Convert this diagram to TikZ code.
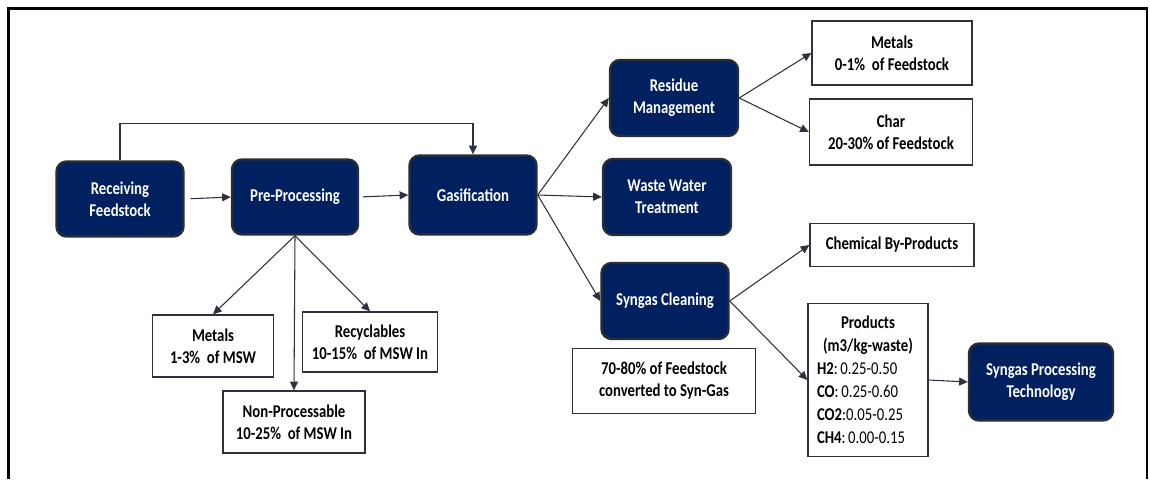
\documentclass[tikz,border=0pt]{standalone}
\usepackage{fontspec}
\setmainfont{Carlito}[FakeStretch=0.82]
\usepackage{tikz}
\usetikzlibrary{arrows.meta}

\definecolor{navy}{RGB}{0,32,96}
\definecolor{edgegray}{RGB}{40,45,54}
\definecolor{linegray}{RGB}{45,50,62}

\begin{document}
\begin{tikzpicture}[x=0.75pt,y=0.75pt,yscale=-1,xscale=1,
  stage/.style={draw=edgegray, line width=1.8pt, fill=navy, rounded corners=7.5pt, text=white, font=\fontsize{13.5}{16.5}\selectfont\bfseries, align=center, inner sep=2pt},
  outbox/.style={draw=linegray, line width=1pt, fill=white, text=black, font=\fontsize{13.5}{16.5}\selectfont\bfseries, align=center, inner sep=2pt},
  flow/.style={draw=linegray, line width=0.8pt, -{Triangle[length=6.5pt,width=6pt]}}
]
%set diagram size
\useasboundingbox (0,0) rectangle (1150,479);

%Frame
\draw [line width=2.25pt] (8,479) -- (8,8.5) -- (1147.5,8.5) ;
\draw [line width=1.1pt] (1147,8) -- (1147,479) ;

%Rounded Rect: main stages
\node [stage, minimum width=95.25pt, minimum height=56.25pt] (recv) at (120,199) {Receiving\\Feedstock};
\node [stage, minimum width=94.5pt, minimum height=56.25pt] (prep) at (295,197) {Pre-Processing};
\node [stage, minimum width=95.25pt, minimum height=59.25pt] (gasif) at (473,195) {Gasification};
\node [stage, minimum width=96pt, minimum height=57pt] (resid) at (674,98) {Residue\\Management};
\node [stage, minimum width=96pt, minimum height=57pt] (water) at (667,197) {Waste Water\\Treatment};
\node [stage, minimum width=95.25pt, minimum height=57pt] (sclean) at (665,301) {Syngas Cleaning};
\node [stage, minimum width=108pt, minimum height=57.75pt] (sproc) at (1041,382) {Syngas Processing\\Technology};

%Rect: outputs
\node [outbox, minimum width=90.75pt, minimum height=46.5pt] (metpre) at (213,346) {Metals\\1-3\%~ of MSW};
\node [outbox, minimum width=101.25pt, minimum height=45pt] (recyc) at (370,342) {Recyclables\\10-15\%~ of MSW In};
\node [outbox, minimum width=106.5pt, minimum height=46.5pt] (nonproc) at (294,422) {Non-Processable\\10-25\%~ of MSW In};
\node [outbox, minimum width=120pt, minimum height=48pt] (metres) at (892,53) {Metals\\0-1\%~ of Feedstock};
\node [outbox, minimum width=122.25pt, minimum height=49.5pt] (charbox) at (891,132) {Char\\20-30\% of Feedstock};
\node [outbox, minimum width=123pt, minimum height=32.25pt] (chem) at (892,245) {Chemical By-Products};
\node [outbox, minimum width=137.25pt, minimum height=48.75pt] (conv) at (664,381) {70-80\% of Feedstock\\converted to Syn-Gas};
\node [outbox, minimum height=114.75pt, text width=76.5pt, inner sep=6.75pt, align=left, font=\fontsize{13.5}{17.25}\selectfont] (prod) at (868,380)
  {{\centering\bfseries Products\\(m3/kg-waste)\par}\raggedright\textbf{H2}:\hspace{2pt}0.25-0.50\\\textbf{CO}:\hspace{2pt}0.25-0.60\\\textbf{CO2}:0.05-0.25\\\textbf{CH4}:\hspace{2pt}0.00-0.15};

%Straight Lines: main flow
\draw [flow, shorten <=4.5pt] (recv.east) -- (prep.west) ;
\draw [flow, shorten <=3pt] (prep.east) -- (gasif.west) ;
\draw [flow] (recv.north) -- ++(0,-37) -| (gasif.north) ;

%Straight Lines: pre-processing split
\draw [flow] (prep.south) -- (metpre.north) ;
\draw [flow] (prep.south) -- (nonproc.north) ;
\draw [flow] (prep.south) -- (recyc.north) ;

%Straight Lines: gasification split
\draw [flow] (gasif.east) -- (resid.west) ;
\draw [flow] (gasif.east) -- (water.west) ;
\draw [flow] (gasif.east) -- (sclean.west) ;

%Straight Lines: residue and syngas
\draw [flow] (resid.east) -- (metres.west) ;
\draw [flow] (resid.east) -- (charbox.west) ;
\draw [flow] (sclean.east) -- (chem.west) ;
\draw [flow] (sclean.east) -- (prod.west) ;
\draw [flow] (prod.east) -- (sproc.west) ;

\end{tikzpicture}
\end{document}
